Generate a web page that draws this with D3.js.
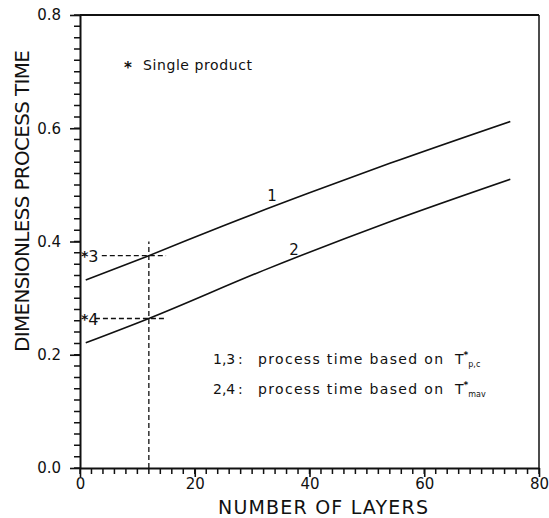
<!DOCTYPE html>
<html>
<meta charset="utf-8">
<head>
  <title>Dimensionless process time vs number of layers</title>
</head>

<style>
body { margin: 0; background: #fff; }
text {
  font-family: "DejaVu Sans", sans-serif;
  fill: #111;
}
.axis path, .axis line { stroke: #111; }
.axis text { font-size: 15px; font-family: "DejaVu Sans", sans-serif; fill: #111; }
.curve { fill: none; stroke: #111; stroke-width: 1.6; }
.dash { fill: none; stroke: #111; stroke-width: 1.3; stroke-dasharray: 5,3; }
</style>

<body>
  <svg width="549" height="518"></svg>

  <script src="https://cdnjs.cloudflare.com/ajax/libs/d3/7.8.5/d3.min.js"></script>

  <script>
var width = 549, height = 518
var margin = {top: 15, right: 10, bottom: 50, left: 80}

// curve 1 : process time based on T*p,c
var layers1 = [1, 12, 25, 40, 54, 75]
var time1 = [0.332, 0.375, 0.428, 0.486, 0.538, 0.612]
// curve 2 : process time based on T*mav
var layers2 = [1, 12, 32, 54, 75]
var time2 = [0.221, 0.264, 0.349, 0.435, 0.510]
// single product values (read at 12 layers)
var singleLabels = ['3', '4']
var singleValues = [0.375, 0.264]
var singleLayers = 12

var xTicks = [0, 20, 40, 60, 80]
var yTicks = [0.0, 0.2, 0.4, 0.6, 0.8]
var xMinor = d3.range(0, 81, 2)
var yMinor = d3.range(0, 41).map(function(i) { return i * 0.02 })

var svg = d3.select('svg')
var x = d3.scaleLinear().domain([0, 80]).range([margin.left, width - margin.right])
var y = d3.scaleLinear().domain([0, 0.8]).range([height - margin.bottom, margin.top])

// minor ticks
var xMinorPath = xMinor.map(function(d) {
  return 'M' + x(d) + ',' + y(0) + 'V' + (y(0) + 6)
}).join('')
var yMinorPath = yMinor.map(function(d) {
  return 'M' + x(0) + ',' + y(d) + 'H' + (x(0) - 6)
}).join('')
svg.append('path').attr('d', xMinorPath).attr('stroke', '#111').attr('stroke-width', 1.5).attr('fill', 'none')
svg.append('path').attr('d', yMinorPath).attr('stroke', '#111').attr('stroke-width', 1.5).attr('fill', 'none')

// major ticks
var xAxis = svg.append('g')
  .attr('class', 'axis')
  .attr('transform', 'translate(0,' + y(0) + ')')
  .call(d3.axisBottom(x).tickValues(xTicks).tickSize(9).tickSizeOuter(0).tickPadding(1).tickFormat(d3.format('d')))
xAxis.select('.domain').attr('stroke-width', 2)
xAxis.selectAll('line').attr('stroke-width', 1.6)

var yAxis = svg.append('g')
  .attr('class', 'axis')
  .attr('transform', 'translate(' + x(0) + ',0)')
  .call(d3.axisLeft(y).tickValues(yTicks).tickSize(10).tickSizeOuter(0).tickPadding(9).tickFormat(d3.format('.1f')))
yAxis.select('.domain').attr('stroke-width', 2)
yAxis.selectAll('line').attr('stroke-width', 1.6)
yAxis.selectAll('text').attr('font-size', 16)

// frame top and right
svg.append('line')
  .attr('x1', x(0)).attr('x2', x(80)).attr('y1', y(0.8)).attr('y2', y(0.8))
  .attr('stroke', '#111').attr('stroke-width', 1.8)
svg.append('line')
  .attr('x1', x(80)).attr('x2', x(80)).attr('y1', y(0.8)).attr('y2', y(0))
  .attr('stroke', '#111').attr('stroke-width', 1.5)

// axis titles
svg.append('text')
  .attr('x', 323).attr('y', 514)
  .attr('text-anchor', 'middle')
  .attr('font-size', 19)
  .attr('textLength', 210).attr('lengthAdjust', 'spacing')
  .text('NUMBER OF LAYERS')

svg.append('text')
  .attr('transform', 'translate(29,201) rotate(-90)')
  .attr('text-anchor', 'middle')
  .attr('font-size', 20)
  .attr('textLength', 302).attr('lengthAdjust', 'spacing')
  .text('DIMENSIONLESS PROCESS TIME')

// curves
var line = d3.line()
  .x(function(d) { return x(d[0]) })
  .y(function(d) { return y(d[1]) })
  .curve(d3.curveMonotoneX)

svg.append('path').attr('class', 'curve').attr('d', line(d3.zip(layers1, time1)))
svg.append('path').attr('class', 'curve').attr('d', line(d3.zip(layers2, time2)))

svg.append('text').attr('x', 272).attr('y', 201).attr('text-anchor', 'middle').attr('font-size', 15).text('1')
svg.append('text').attr('x', 294).attr('y', 255).attr('text-anchor', 'middle').attr('font-size', 15).text('2')

// dashed guides at 12 layers
svg.append('line').attr('class', 'dash')
  .attr('x1', x(singleLayers)).attr('x2', x(singleLayers))
  .attr('y1', y(0)).attr('y2', y(0.4))

singleValues.forEach(function(v, i) {
  svg.append('line').attr('class', 'dash')
    .attr('x1', x(i == 0 ? 3.8 : 2.6)).attr('x2', x(15))
    .attr('y1', y(v)).attr('y2', y(v))
  var t = svg.append('text')
    .attr('x', x(0) + 1).attr('y', y(v) + 6)
    .attr('font-size', 16)
  t.append('tspan').attr('font-weight', 'bold').attr('font-size', 14).attr('dy', -1).text('*')
  t.append('tspan').attr('dy', 1).text(singleLabels[i])
})

// annotations
svg.append('text').attr('x', 128).attr('y', 73).attr('text-anchor', 'middle')
  .attr('font-size', 15).attr('font-weight', 'bold').text('*')
svg.append('text').attr('x', 143).attr('y', 70).attr('font-size', 14)
  .attr('textLength', 109).attr('lengthAdjust', 'spacing').text('Single product')

var legend = [
  {key: '1,3', sub: 'p,c', y: 364},
  {key: '2,4', sub: 'mav', y: 394}
]
legend.forEach(function(d) {
  svg.append('text').attr('x', 213).attr('y', d.y).attr('font-size', 14).text(d.key)
  svg.append('text').attr('x', 238).attr('y', d.y).attr('font-size', 14).text(':')
  svg.append('text').attr('x', 258).attr('y', d.y).attr('font-size', 14)
    .attr('textLength', 185).attr('lengthAdjust', 'spacing').text('process time based on')
  var t = svg.append('text').attr('x', 455).attr('y', d.y).attr('font-size', 14)
  t.append('tspan').text('T')
  t.append('tspan').attr('font-size', 9).attr('font-weight', 'bold').attr('dy', -6).text('*')
  t.append('tspan').attr('font-size', 8).attr('dy', 9).text(d.sub)
})
  </script>
</body>
</html>
